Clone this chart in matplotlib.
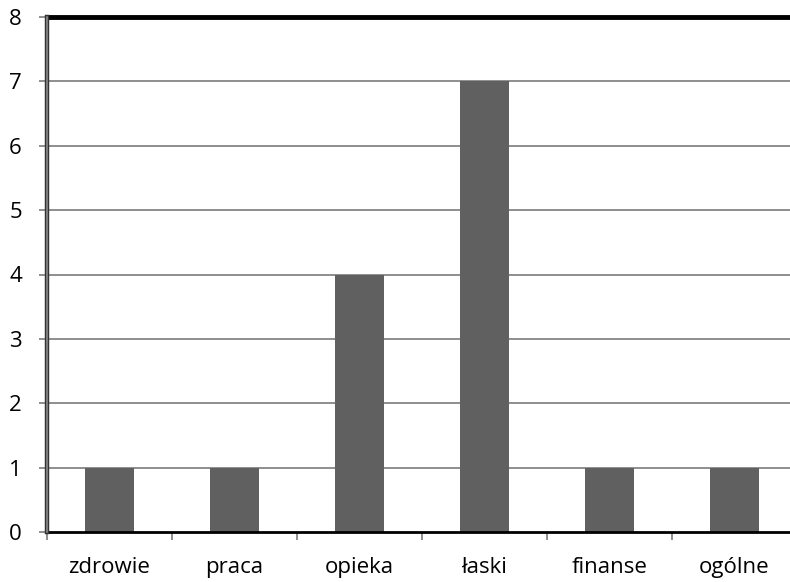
import matplotlib.pyplot as plt
import numpy as np

# dane do wykresu
kategorie = ['zdrowie', 'praca', 'opieka', 'łaski', 'finanse', 'ogólne']
wartosci = [1, 1, 4, 7, 1, 1]
y_ticks = [0, 1, 2, 3, 4, 5, 6, 7, 8]

plt.rcParams['font.family'] = ['Open Sans', 'DejaVu Sans']

fig = plt.figure(figsize=(7.9, 5.82), dpi=100)
ax = fig.add_axes([47 / 790, 50 / 582, 750 / 790, 515 / 582])

x = np.arange(len(kategorie))
ax.bar(x, wartosci, width=0.39, color='#606060', zorder=3)

ax.set_xlim(-0.5, len(kategorie) - 0.5)
ax.set_ylim(0, 8)

# linie siatki
for y in y_ticks[1:-1]:
    ax.axhline(y, color='#868686', linewidth=1.3, zorder=1)

ax.set_yticks(y_ticks)
ax.set_yticklabels([str(v) for v in y_ticks], fontsize=16)
ax.set_xticks(x)
ax.set_xticklabels(kategorie, fontsize=16)
ax.set_xticks(np.arange(len(kategorie) + 1) - 0.5, minor=True)
ax.tick_params(axis='x', which='major', length=0, pad=18)
ax.tick_params(axis='x', which='minor', length=6, color='#868686', width=1.3)
ax.tick_params(axis='y', length=6, color='#868686', width=1.3, pad=12)

for side in ['top', 'bottom', 'left', 'right']:
    ax.spines[side].set_visible(False)
ax.axhline(8, color='black', linewidth=3.5, zorder=4, clip_on=False)
ax.axhline(0, color='black', linewidth=2, zorder=4, clip_on=False)
# lewa oś: szara linia z ciemnym obrysem
ax.axvline(-0.5, color='#333333', linewidth=3.2, zorder=4, clip_on=False)
ax.axvline(-0.5, color='#8a8a8a', linewidth=1.2, zorder=5, clip_on=False)

fig.savefig('out.png', dpi=100)
